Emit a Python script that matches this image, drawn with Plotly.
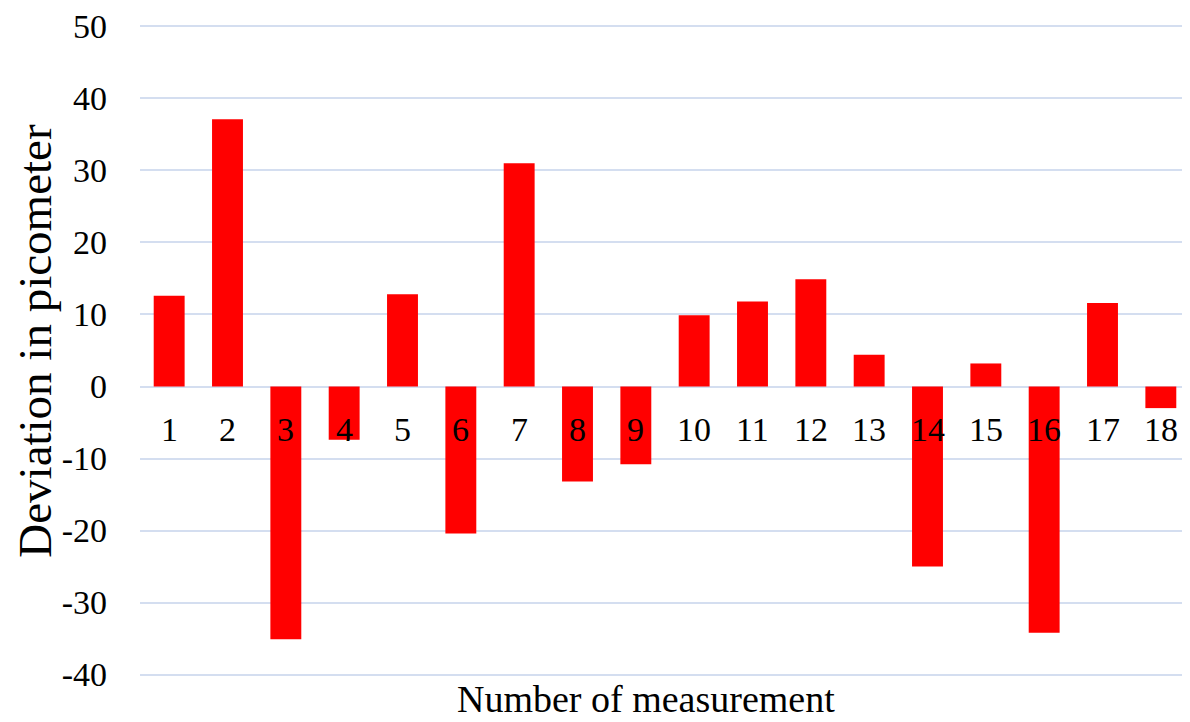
import plotly.graph_objects as go

categories = [str(i) for i in range(1, 19)]
deviation = [12.6, 37.1, -35.1, -7.4, 12.8, -20.4, 31.0, -13.2, -10.8,
             9.9, 11.8, 14.9, 4.4, -25.0, 3.2, -34.2, 11.6, -3.0]
y_ticks = [50, 40, 30, 20, 10, 0, -10, -20, -30, -40]

font_family = "Liberation Serif, Times New Roman, serif"

fig = go.Figure()
fig.add_trace(go.Bar(x=list(range(len(categories))), y=deviation,
                     marker=dict(color="#ff0000", line=dict(width=0))))

annotations = []
for i, c in enumerate(categories):
    annotations.append(dict(x=i, y=0, xref="x", yref="y", text=c, showarrow=False,
                            yanchor="top", yshift=-22,
                            font=dict(family=font_family, size=34, color="#000000")))
annotations.append(dict(x=0.482, y=-0.0705, xref="paper", yref="paper", text="Number of measurement",
                        showarrow=False, yanchor="bottom", xanchor="center",
                        font=dict(family=font_family, size=38, color="#000000")))
annotations.append(dict(x=-0.1, y=0.515, xref="paper", yref="paper", text="Deviation in picometer",
                        showarrow=False, yanchor="middle", xanchor="center", textangle=-90,
                        font=dict(family=font_family, size=47, color="#000000")))

# page has an 8px body margin, so the figure is a bit smaller than the window
fig.update_layout(
    width=1182, height=714,
    margin=dict(l=132, r=0, t=15, b=46),
    paper_bgcolor="white", plot_bgcolor="white",
    showlegend=False,
    bargap=0.47,
    annotations=annotations,
    xaxis=dict(showticklabels=False, showgrid=False, zeroline=False, showline=False, ticks="",
               range=[-0.5, len(categories) - 0.5]),
    yaxis=dict(range=[-40.2, 50.2], tickvals=y_ticks, ticktext=[str(v) for v in y_ticks],
               showgrid=True, gridcolor="#d4def0", gridwidth=1.5,
               zeroline=True, zerolinecolor="#d4def0", zerolinewidth=1.5,
               showline=False, ticks="", ticklabelstandoff=32, ticklabeloverflow="allow",
               tickfont=dict(family=font_family, size=34, color="#000000")),
)

fig.write_html("out.html")
